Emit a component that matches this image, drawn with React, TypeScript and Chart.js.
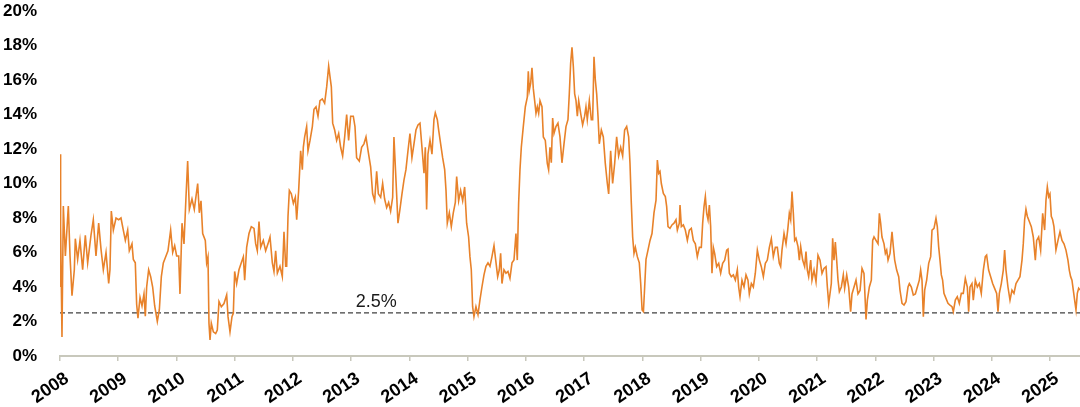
import React, { useEffect, useRef } from "react";
import { Chart, registerables } from "chart.js";

Chart.register(...registerables);

// Decimal-year dates of the observations
const dates: number[] = [
  2008.000, 2008.004, 2008.010, 2008.017, 2008.034, 2008.057, 2008.092, 2008.143, 2008.172, 2008.206,
  2008.246, 2008.263, 2008.303, 2008.343, 2008.389, 2008.435, 2008.475, 2008.532, 2008.572, 2008.618,
  2008.664, 2008.704, 2008.744, 2008.790, 2008.836, 2008.858, 2008.881, 2008.916, 2008.962, 2009.007,
  2009.047, 2009.087, 2009.122, 2009.162, 2009.190, 2009.236, 2009.259, 2009.293, 2009.316, 2009.339,
  2009.374, 2009.408, 2009.442, 2009.465, 2009.488, 2009.522, 2009.557, 2009.591, 2009.626, 2009.671,
  2009.706, 2009.740, 2009.774, 2009.820, 2009.854, 2009.900, 2009.935, 2009.969, 2010.003, 2010.038,
  2010.060, 2010.095, 2010.129, 2010.163, 2010.192, 2010.221, 2010.266, 2010.306, 2010.364, 2010.392,
  2010.421, 2010.450, 2010.495,
  2010.518, 2010.541, 2010.558, 2010.576, 2010.598, 2010.633, 2010.673, 2010.701, 2010.730, 2010.770,
  2010.816, 2010.862, 2010.885, 2010.919, 2010.953, 2010.976, 2010.999, 2011.033, 2011.073, 2011.113,
  2011.148, 2011.171, 2011.205, 2011.245, 2011.285, 2011.331, 2011.360, 2011.388, 2011.417, 2011.446,
  2011.491, 2011.531, 2011.571, 2011.606, 2011.646, 2011.674, 2011.703, 2011.732, 2011.777, 2011.817,
  2011.846, 2011.875, 2011.892, 2011.915, 2011.938, 2011.972, 2012.007, 2012.041, 2012.064, 2012.098,
  2012.132, 2012.161, 2012.178, 2012.201, 2012.235, 2012.258, 2012.293, 2012.333, 2012.361, 2012.396,
  2012.430, 2012.464, 2012.504, 2012.544, 2012.579, 2012.613, 2012.636, 2012.659, 2012.682, 2012.716,
  2012.750, 2012.785, 2012.819, 2012.853, 2012.888, 2012.922, 2012.956, 2012.991,
  2013.036, 2013.065, 2013.093, 2013.139, 2013.179, 2013.219, 2013.254, 2013.294, 2013.334, 2013.368,
  2013.403, 2013.437, 2013.466, 2013.506, 2013.540, 2013.574, 2013.609, 2013.643, 2013.677, 2013.712,
  2013.734, 2013.769, 2013.803, 2013.837, 2013.872, 2013.906, 2013.940, 2013.975, 2014.009, 2014.043,
  2014.078, 2014.112, 2014.147, 2014.181, 2014.215, 2014.250, 2014.273, 2014.295, 2014.318, 2014.353,
  2014.387, 2014.421, 2014.444, 2014.479, 2014.502, 2014.536, 2014.570, 2014.605, 2014.628, 2014.650,
  2014.685, 2014.719, 2014.753, 2014.788, 2014.811, 2014.845, 2014.879, 2014.914, 2014.948, 2014.982,
  2015.016, 2015.039, 2015.062, 2015.085, 2015.108, 2015.142, 2015.177, 2015.211, 2015.245, 2015.280,
  2015.314, 2015.349, 2015.383, 2015.417, 2015.452,
  2015.515, 2015.543, 2015.566, 2015.589, 2015.623, 2015.658, 2015.692, 2015.726, 2015.761, 2015.795,
  2015.829, 2015.852, 2015.875, 2015.898, 2015.921, 2015.955, 2015.990, 2016.024, 2016.041, 2016.058,
  2016.081, 2016.104, 2016.127, 2016.150, 2016.173, 2016.196, 2016.219, 2016.242, 2016.276, 2016.299,
  2016.333, 2016.367, 2016.390, 2016.413, 2016.436, 2016.459, 2016.482, 2016.516, 2016.550, 2016.585,
  2016.619, 2016.654, 2016.688, 2016.722, 2016.745, 2016.768, 2016.791, 2016.814, 2016.837, 2016.860,
  2016.883, 2016.906, 2016.940, 2016.974, 2017.008, 2017.031, 2017.054, 2017.089, 2017.123, 2017.146,
  2017.169, 2017.192, 2017.215, 2017.238, 2017.260, 2017.295, 2017.329, 2017.363, 2017.398, 2017.421,
  2017.455, 2017.489, 2017.524, 2017.558, 2017.592, 2017.627, 2017.661, 2017.695, 2017.730, 2017.764,
  2017.787, 2017.810, 2017.833, 2017.856, 2017.879, 2017.913, 2017.947, 2017.971, 2017.995, 2018.018,
  2018.039, 2018.062, 2018.096, 2018.131, 2018.165, 2018.199, 2018.234, 2018.257, 2018.280, 2018.302,
  2018.325, 2018.360, 2018.394, 2018.417, 2018.440, 2018.474, 2018.508, 2018.543, 2018.577, 2018.600,
  2018.634, 2018.646, 2018.669, 2018.703, 2018.737, 2018.772, 2018.806, 2018.840, 2018.875, 2018.909,
  2018.943, 2018.978, 2019.012, 2019.035, 2019.058, 2019.081, 2019.104, 2019.127, 2019.150, 2019.172,
  2019.195, 2019.218, 2019.241, 2019.275, 2019.310, 2019.344, 2019.378, 2019.413, 2019.447, 2019.470,
  2019.493, 2019.527, 2019.562, 2019.596, 2019.630, 2019.653, 2019.676, 2019.710, 2019.745, 2019.779,
  2019.813, 2019.836, 2019.871, 2019.905, 2019.939, 2019.974, 2020.008, 2020.042, 2020.077, 2020.111,
  2020.145, 2020.180, 2020.214, 2020.248, 2020.283, 2020.317, 2020.351, 2020.374, 2020.397, 2020.432,
  2020.466,
  2020.495, 2020.523, 2020.546, 2020.569, 2020.592, 2020.615, 2020.638, 2020.672, 2020.695, 2020.718,
  2020.752, 2020.786, 2020.809, 2020.832, 2020.855, 2020.890, 2020.912, 2020.947, 2020.981, 2021.015,
  2021.050, 2021.084, 2021.118, 2021.153, 2021.176, 2021.199, 2021.221, 2021.244, 2021.267, 2021.290,
  2021.313, 2021.336, 2021.359, 2021.382, 2021.416, 2021.450, 2021.473, 2021.508, 2021.542, 2021.576,
  2021.599, 2021.634, 2021.668, 2021.702, 2021.737, 2021.771, 2021.805, 2021.828, 2021.840, 2021.863,
  2021.897, 2021.931, 2021.954, 2021.977, 2022.011, 2022.046, 2022.069, 2022.091, 2022.114, 2022.149,
  2022.172, 2022.195, 2022.218, 2022.252, 2022.286, 2022.309, 2022.332, 2022.366, 2022.401, 2022.423,
  2022.458, 2022.492, 2022.526, 2022.561, 2022.584, 2022.618, 2022.652, 2022.687, 2022.721, 2022.755,
  2022.778, 2022.801, 2022.824, 2022.847, 2022.881, 2022.916, 2022.950, 2022.973, 2023.007,
  2023.041, 2023.064, 2023.087, 2023.110, 2023.133, 2023.155, 2023.178, 2023.213, 2023.247, 2023.281,
  2023.316, 2023.339, 2023.373, 2023.407, 2023.442, 2023.476, 2023.510, 2023.545, 2023.579, 2023.602,
  2023.625, 2023.659, 2023.682, 2023.717, 2023.751, 2023.785, 2023.819, 2023.854, 2023.888, 2023.911,
  2023.945, 2023.980, 2024.014, 2024.048, 2024.083, 2024.106, 2024.129, 2024.163, 2024.197, 2024.220,
  2024.243, 2024.277, 2024.312, 2024.346, 2024.380, 2024.415, 2024.449, 2024.483, 2024.518, 2024.540,
  2024.563, 2024.586, 2024.609, 2024.644, 2024.678, 2024.712, 2024.747, 2024.770, 2024.804, 2024.838,
  2024.873, 2024.907, 2024.930, 2024.953, 2024.976, 2024.998, 2025.021, 2025.044, 2025.067, 2025.101,
  2025.136, 2025.170, 2025.205, 2025.239, 2025.273, 2025.307, 2025.330, 2025.353, 2025.376, 2025.399,
  2025.422, 2025.445, 2025.468, 2025.491, 2025.514,
];

// Series values (%)
const values: number[] = [
  9.0, 11.7, 4.0, 7.5, 1.1, 8.7, 5.8, 8.7, 5.8, 3.5,
  5.0, 6.8, 5.6, 6.7, 5.0, 7.0, 5.4, 7.0, 7.9, 5.8,
  7.7, 6.2, 5.0, 6.0, 4.2, 5.0, 8.4, 7.3, 8.0, 7.9,
  8.0, 7.3, 6.7, 7.3, 6.1, 6.5, 5.6, 5.4, 3.0, 2.2,
  3.4, 2.9, 3.6, 2.3, 4.0, 5.0, 4.6, 4.0, 2.9, 2.0,
  2.7, 4.6, 5.4, 5.8, 6.1, 7.3, 6.0, 6.4, 5.8, 5.8,
  3.6, 7.7, 6.5, 9.2, 11.3, 8.5, 9.1, 8.5, 10.0, 8.3,
  9.0, 7.1, 6.7,
  5.4, 5.75, 1.9, 0.93, 1.9, 1.4, 1.3, 1.5, 3.15, 2.85,
  3.04, 3.54, 2.28, 1.4, 2.28, 2.47, 4.9, 4.2, 5.0, 5.4,
  5.75, 4.4, 6.3, 7.1, 7.5, 7.4, 6.5, 6.1, 7.8, 6.3,
  6.7, 6.1, 6.5, 6.9, 5.4, 4.9, 6.1, 4.8, 5.2, 4.6,
  7.2, 5.2, 5.2, 8.1, 9.6, 9.4, 8.85, 9.2, 7.9, 9.6,
  11.9, 10.8, 12.1, 12.7, 13.3, 11.9, 12.5, 13.3, 14.3, 14.45,
  13.9, 14.8, 14.9, 14.65, 15.6, 16.8, 16.2, 15.6, 13.5, 13.1,
  12.5, 12.9, 12.1, 11.6, 12.7, 14.0, 12.5, 13.9,
  13.9, 13.3, 11.5, 11.3, 12.1, 12.3, 12.7, 11.8, 10.97, 9.4,
  9.0, 10.7, 9.4, 9.2, 10.0, 9.1, 8.6, 8.9, 8.4, 9.2,
  12.7, 10.2, 7.7, 8.5, 9.4, 10.2, 10.8, 11.9, 12.9, 11.5,
  12.3, 13.1, 13.4, 13.5, 12.1, 10.6, 12.1, 8.5, 11.7, 12.5,
  11.7, 13.7, 14.1, 13.7, 13.1, 12.3, 11.5, 10.8, 9.6, 7.7,
  8.3, 7.5, 8.3, 8.9, 10.4, 9.0, 9.6, 9.0, 9.8, 7.7,
  6.9, 5.76, 5.0, 2.86, 2.28, 2.86, 2.4, 3.25, 4.0, 4.7,
  5.2, 5.4, 5.2, 5.76, 6.4,
  4.6, 5.0, 5.95, 4.2, 5.0, 4.8, 4.9, 4.5, 5.4, 5.56,
  7.1, 5.56, 8.85, 10.8, 12.1, 13.3, 14.45, 15.0, 16.5, 15.4,
  15.8, 16.7, 15.5, 14.8, 14.07, 14.45, 14.07, 14.8, 14.45, 12.7,
  12.5, 11.17, 10.8, 12.1, 11.2, 13.8, 12.9, 13.3, 13.5, 12.7,
  11.2, 12.3, 13.3, 13.7, 15.2, 16.97, 17.9, 16.8, 15.2, 14.8,
  13.9, 14.8, 14.07, 13.4, 13.9, 14.45, 13.7, 14.8, 13.7, 13.7,
  17.35, 16.0, 15.2, 13.9, 12.3, 13.1, 12.7, 11.17, 10.0, 9.4,
  11.9, 10.0, 11.17, 12.7, 11.6, 12.1, 11.6, 13.1, 13.3, 12.7,
  11.17, 8.85, 6.9, 5.95, 6.3, 5.76, 5.4, 4.2, 2.67, 2.57,
  4.0, 5.6, 6.14, 6.7, 7.1, 8.3, 9.04, 11.36, 10.59, 10.7,
  10.0, 9.43, 9.24, 8.66, 7.5, 7.4, 7.6, 7.7, 7.9, 7.3,
  7.7, 8.75, 7.5, 7.6, 7.3, 6.7, 7.3, 7.4, 6.7, 6.5,
  5.76, 6.3, 6.3, 7.7, 8.66, 9.24, 8.27, 7.9, 8.75, 7.5,
  4.8, 6.3, 5.95, 5.18, 5.37, 4.8, 5.37, 5.56, 6.14, 6.2,
  4.8, 4.6, 4.7, 4.4, 5.0, 4.0, 3.44, 4.4, 4.0, 4.7,
  4.4, 3.6, 4.2, 4.0, 4.8, 6.14, 5.56, 5.18, 4.6, 5.37,
  5.56, 6.3, 6.8, 5.76, 6.3, 6.3, 5.37, 5.18, 6.14, 7.1,
  6.5,
  7.3, 8.27, 7.9, 9.53, 8.27, 6.7, 6.82, 6.34, 5.56, 6.34,
  5.56, 5.18, 6.05, 4.98, 4.6, 5.56, 4.4, 4.98, 4.3, 5.85,
  5.56, 4.79, 5.08, 5.18, 4.0, 3.05, 3.6, 4.2, 6.82, 5.56,
  6.6, 5.56, 4.4, 3.73, 4.0, 4.7, 3.92, 4.7, 4.0, 2.57,
  3.6, 4.0, 4.4, 3.6, 3.8, 5.08, 4.79, 3.05, 2.12, 3.24,
  4.0, 4.4, 6.7, 6.9, 6.7, 6.5, 8.27, 7.7, 6.9, 6.5,
  5.95, 6.14, 5.56, 5.95, 7.2, 6.34, 5.56, 4.98, 4.6, 3.82,
  3.05, 2.95, 3.15, 4.0, 4.2, 4.0, 3.53, 3.6, 4.0, 4.4,
  4.98, 4.4, 2.28, 3.82, 4.4, 5.37, 5.76, 7.3, 7.4,
  7.98, 7.5, 6.34, 5.56, 4.7, 4.4, 3.63, 3.34, 3.05, 2.95,
  2.86, 2.57, 3.24, 3.44, 3.05, 3.63, 3.63, 4.5, 4.0, 2.57,
  4.0, 4.2, 3.24, 4.4, 4.0, 4.2, 3.63, 4.98, 5.76, 5.85,
  4.98, 4.6, 4.2, 3.92, 3.63, 2.57, 3.63, 4.2, 4.98, 6.14,
  4.98, 4.0, 3.24, 3.82, 3.63, 4.2, 4.4, 4.6, 5.56, 6.5,
  7.9, 8.5, 8.1, 7.8, 7.5, 6.9, 5.56, 6.7, 6.9, 6.14,
  8.27, 7.3, 9.04, 9.8, 9.24, 9.4, 8.1, 7.9, 7.5, 6.14,
  6.7, 7.2, 6.7, 6.5, 6.14, 5.56, 4.98, 4.6, 4.4, 3.82,
  3.24, 2.67, 3.63, 3.92, 3.82,
];

const xTickYears: number[] = [
  2008, 2009, 2010, 2011, 2012, 2013, 2014, 2015, 2016,
  2017, 2018, 2019, 2020, 2021, 2022, 2023, 2024, 2025,
];
const yTickValues: number[] = [0, 2, 4, 6, 8, 10, 12, 14, 16, 18, 20];
const xStart = 2008;
const xEnd = 2025.514;
const thresholdValue = 2.5;
const thresholdLabel = "2.5%";
const thresholdLabelYear = 2013.43;

const ORANGE = "#E8822A";
const AXIS_GREY = "#c8c8bc";
const FONT = '"Liberation Sans", Arial, Helvetica, sans-serif';

const thresholdLabelPlugin = {
  id: "thresholdLabel",
  afterDatasetsDraw(chart: any) {
    const { ctx, scales } = chart;
    const x = scales.x.getPixelForValue(thresholdLabelYear);
    const y = scales.y.getPixelForValue(thresholdValue);
    ctx.save();
    ctx.font = `18px ${FONT}`;
    ctx.fillStyle = "#1a1a1a";
    ctx.textAlign = "center";
    ctx.textBaseline = "alphabetic";
    ctx.fillText(thresholdLabel, x, y - 6);
    ctx.restore();
  },
};

export default function App() {
  const canvasRef = useRef<HTMLCanvasElement>(null);

  useEffect(() => {
    document.body.style.margin = "0";
    const canvas = canvasRef.current;
    if (!canvas) return;
    const chart = new Chart(canvas, {
      type: "line",
      data: {
        datasets: [
          {
            data: dates.map((d, i) => ({ x: d, y: values[i] })),
            borderColor: ORANGE,
            borderWidth: 1.6,
            pointRadius: 0,
            tension: 0,
            fill: false,
          },
          {
            data: [
              { x: xStart, y: thresholdValue },
              { x: xEnd, y: thresholdValue },
            ],
            borderColor: "#404040",
            borderWidth: 1.3,
            borderDash: [5, 3],
            pointRadius: 0,
            fill: false,
          },
        ],
      },
      options: {
        responsive: false,
        animation: false,
        layout: { padding: { top: 11, right: 0, bottom: 0, left: 0 } },
        plugins: {
          legend: { display: false },
          tooltip: { enabled: false },
        },
        scales: {
          x: {
            type: "linear",
            min: xStart,
            max: xEnd,
            afterBuildTicks: (scale: any) => {
              scale.ticks = xTickYears.map((v) => ({ value: v }));
            },
            afterFit: (scale: any) => {
              scale.height = 51;
              scale.paddingLeft = 0;
              scale.paddingRight = 0;
            },
            grid: {
              display: true,
              drawOnChartArea: false,
              drawTicks: true,
              tickLength: 5,
              color: AXIS_GREY,
              lineWidth: 1.5,
            },
            border: { display: true, color: AXIS_GREY, width: 2 },
            ticks: {
              autoSkip: false,
              minRotation: 34,
              maxRotation: 34,
              padding: 7,
              labelOffset: 7,
              color: "#000",
              font: { family: FONT, size: 18, weight: "bold" },
              callback: (v: any) => String(v),
            },
          },
          y: {
            min: 0,
            max: 20,
            afterBuildTicks: (scale: any) => {
              scale.ticks = yTickValues.map((v) => ({ value: v }));
            },
            afterFit: (scale: any) => {
              scale.width = 60;
              scale.paddingTop = 0;
              scale.paddingBottom = 0;
            },
            grid: { display: false, drawTicks: false },
            border: { display: false },
            ticks: {
              padding: 23,
              color: "#000",
              font: { family: FONT, size: 17, weight: "bold" },
              callback: (v: any) => `${v}%`,
            },
          },
        },
      } as any,
      plugins: [thresholdLabelPlugin],
    });
    return () => chart.destroy();
  }, []);

  return (
    <canvas
      ref={canvasRef}
      width={1080}
      height={407}
      style={{ display: "block", width: "1080px", height: "407px" }}
    />
  );
}
